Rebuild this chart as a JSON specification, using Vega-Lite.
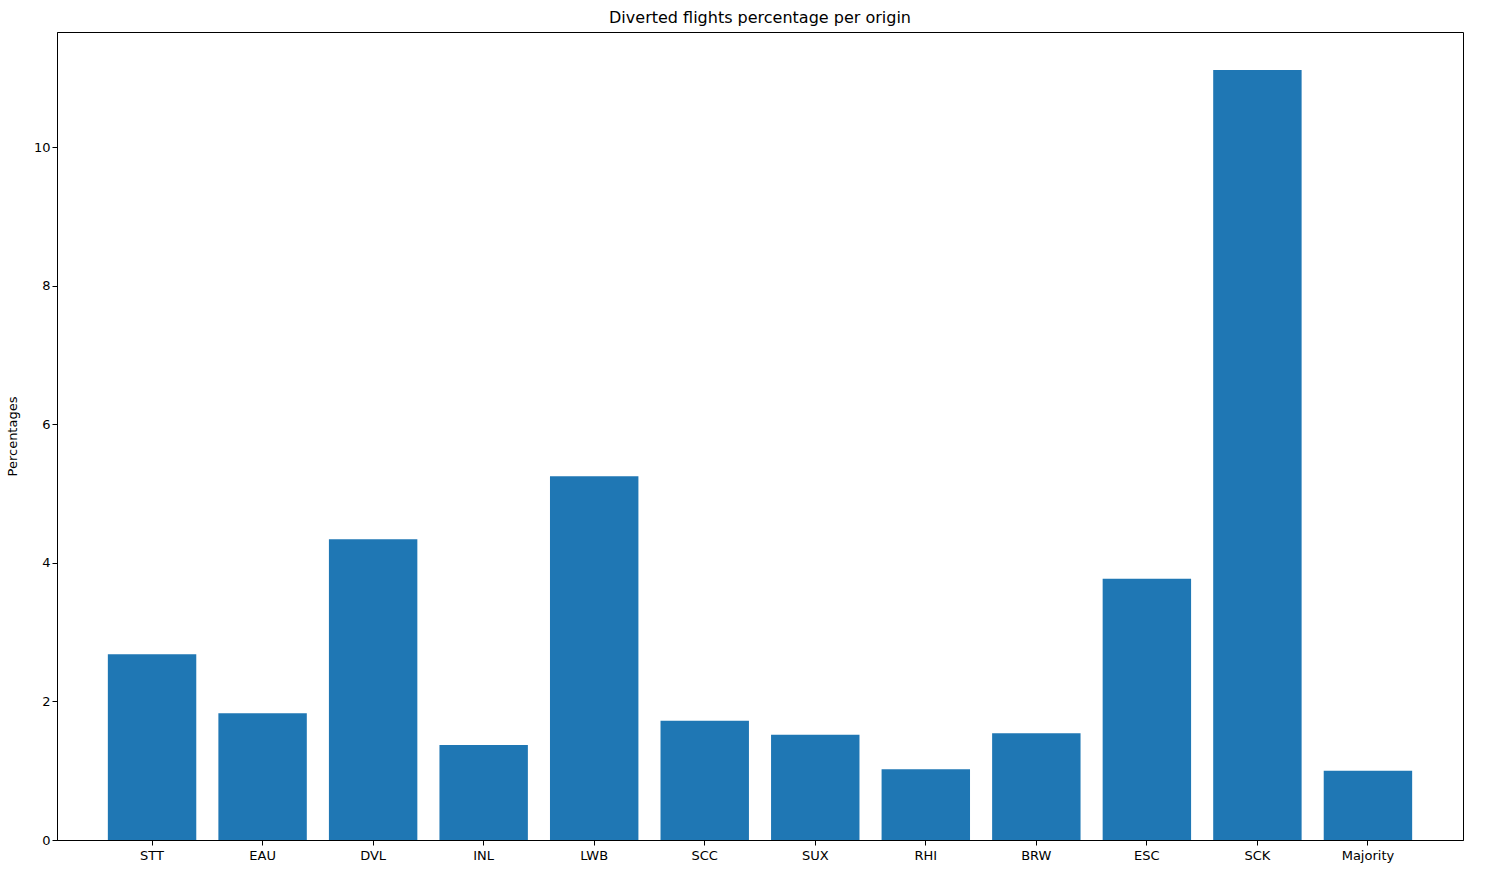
{
  "$schema": "https://vega.github.io/schema/vega-lite/v6.json",
  "width": 1406,
  "height": 808,
  "autosize": "none",
  "padding": {"left": 57, "top": 32, "right": 37, "bottom": 34},
  "background": "white",
  "title": {"text": "Diverted flights percentage per origin", "fontSize": 16, "font": "DejaVu Sans", "fontWeight": "normal", "offset": 6},
  "data": {
    "values": [
      {"origin": "STT", "pct": 2.68},
      {"origin": "EAU", "pct": 1.83},
      {"origin": "DVL", "pct": 4.34},
      {"origin": "INL", "pct": 1.37},
      {"origin": "LWB", "pct": 5.25},
      {"origin": "SCC", "pct": 1.72},
      {"origin": "SUX", "pct": 1.52},
      {"origin": "RHI", "pct": 1.02},
      {"origin": "BRW", "pct": 1.54},
      {"origin": "ESC", "pct": 3.77},
      {"origin": "SCK", "pct": 11.11},
      {"origin": "Majority", "pct": 1.0}
    ]
  },
  "mark": {"type": "bar", "color": "#1f77b4"},
  "encoding": {
    "x": {"field": "origin", "type": "nominal", "sort": null, "title": null,
      "scale": {"paddingInner": 0.2, "paddingOuter": 0.46},
      "axis": {"labelAngle": 0, "labelFontSize": 13, "labelFont": "DejaVu Sans", "labelColor": "black", "tickColor": "black", "domainColor": "black", "labelPadding": 4}},
    "y": {"field": "pct", "type": "quantitative", "title": "Percentages",
      "scale": {"domain": [0, 11.66], "nice": false},
      "axis": {"values": [0, 2, 4, 6, 8, 10], "grid": false, "labelFontSize": 13, "titleFontSize": 13, "titleFontWeight": "normal", "labelFont": "DejaVu Sans", "titleFont": "DejaVu Sans", "labelColor": "black", "titleColor": "black", "tickColor": "black", "domainColor": "black", "titlePadding": 14}}
  },
  "config": {"view": {"stroke": "black", "strokeWidth": 1}}
}
